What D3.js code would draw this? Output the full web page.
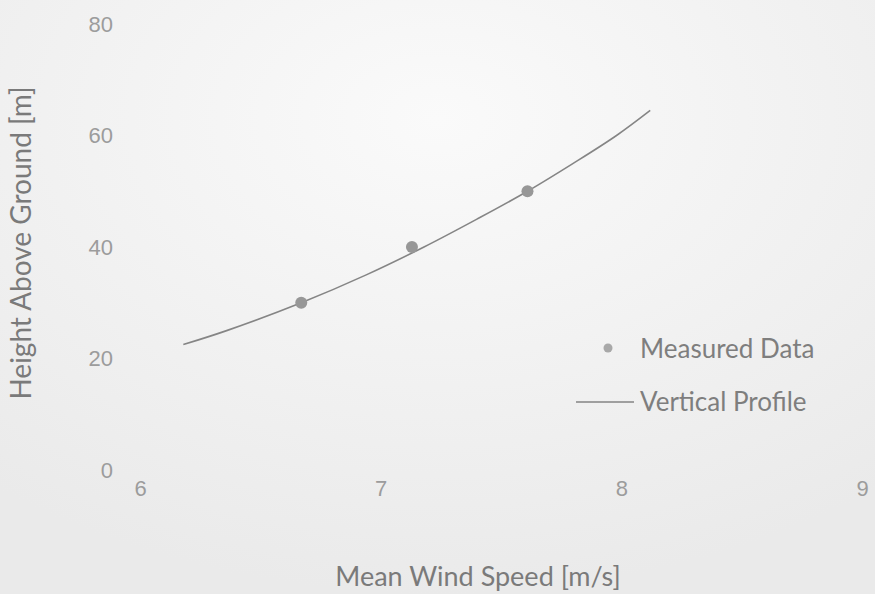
<!DOCTYPE html>
<html>
<head>
<meta charset="utf-8">
<script src="https://cdn.jsdelivr.net/npm/d3@7"></script>
<style>
  body { margin: 0; background: #f0f0f0; }
  svg { display: block; font-family: Lato, "Open Sans", sans-serif; }
</style>
</head>
<body>
<div id="chart"></div>
<script>
// measured points (wind speed m/s, height m)
var measuredSpeed = [6.67, 7.13, 7.61];
var measuredHeight = [30, 40, 50];

// fitted vertical profile
var profileSpeed = [6.18, 6.36, 6.67, 6.94, 7.18, 7.40, 7.61, 7.80, 7.98, 8.12];
var profileHeight = [22.5, 25, 30, 35, 40, 45, 50, 55, 60, 64.5];

var xTicks = [6, 7, 8, 9];
var yTicks = [0, 20, 40, 60, 80];
var legendLabels = ["Measured Data", "Vertical Profile"];

var w = 875;
var h = 594;

var svg = d3.select("#chart")
  .append("svg")
  .attr("width", w)
  .attr("height", h);

// washed out background, lighter near the top middle
var grad = svg.append("defs").append("radialGradient")
  .attr("id", "bg")
  .attr("cx", "0.5").attr("cy", "0.2").attr("r", "0.8");
grad.append("stop").attr("offset", "0%").attr("stop-color", "#fafafa");
grad.append("stop").attr("offset", "100%").attr("stop-color", "#eaeaea");
svg.append("rect")
  .attr("width", w).attr("height", h)
  .attr("fill", "url(#bg)");

var x = d3.scaleLinear().domain([6, 9]).range([140, 862]);
var y = d3.scaleLinear().domain([0, 80]).range([470, 24]);

// y axis tick labels (no axis line)
var yAxis = svg.append("g")
  .attr("transform", "translate(113,0)")
  .call(d3.axisLeft(y).tickValues(yTicks).tickFormat(d3.format("d")).tickSize(0).tickPadding(0));
yAxis.select(".domain").remove();
yAxis.selectAll("text")
  .attr("fill", "#9c9c9c")
  .style("font-size", "22px");

// x axis tick labels
var xAxis = svg.append("g")
  .attr("transform", "translate(0,480)")
  .call(d3.axisBottom(x).tickValues(xTicks).tickFormat(d3.format("d")).tickSize(0).tickPadding(0));
xAxis.select(".domain").remove();
xAxis.selectAll("text")
  .attr("fill", "#9c9c9c")
  .style("font-size", "22px");

// axis titles
svg.append("text")
  .attr("x", 478)
  .attr("y", 586)
  .attr("text-anchor", "middle")
  .attr("fill", "#7a7a7a")
  .style("font-size", "27px")
  .text("Mean Wind Speed [m/s]");

svg.append("text")
  .attr("transform", "translate(31,243) rotate(-90)")
  .attr("text-anchor", "middle")
  .attr("fill", "#7a7a7a")
  .style("font-size", "28px")
  .text("Height Above Ground [m]");

// profile line
var profile = profileSpeed.map(function(d, i) { return [d, profileHeight[i]]; });
var line = d3.line()
  .x(function(d) { return x(d[0]); })
  .y(function(d) { return y(d[1]); })
  .curve(d3.curveCatmullRom);

svg.append("path")
  .datum(profile)
  .attr("d", line)
  .attr("fill", "none")
  .attr("stroke", "#858585")
  .attr("stroke-width", 1.6);

// measured points
svg.selectAll("circle.pt")
  .data(measuredSpeed)
  .enter()
  .append("circle")
  .attr("class", "pt")
  .attr("cx", function(d) { return x(d); })
  .attr("cy", function(d, i) { return y(measuredHeight[i]); })
  .attr("r", 6)
  .attr("fill", "#979797");

// legend
var legend = svg.append("g");
legend.append("circle")
  .attr("cx", 608).attr("cy", 348).attr("r", 4.5)
  .attr("fill", "#a8a8a8");
legend.append("line")
  .attr("x1", 576).attr("x2", 634)
  .attr("y1", 402).attr("y2", 402)
  .attr("stroke", "#858585")
  .attr("stroke-width", 1.4);
legend.selectAll("text")
  .data(legendLabels)
  .enter()
  .append("text")
  .attr("x", 640)
  .attr("y", function(d, i) { return 358 + i * 53; })
  .attr("fill", "#7e7e7e")
  .style("font-size", "26px")
  .text(function(d) { return d; });
</script>
</body>
</html>
